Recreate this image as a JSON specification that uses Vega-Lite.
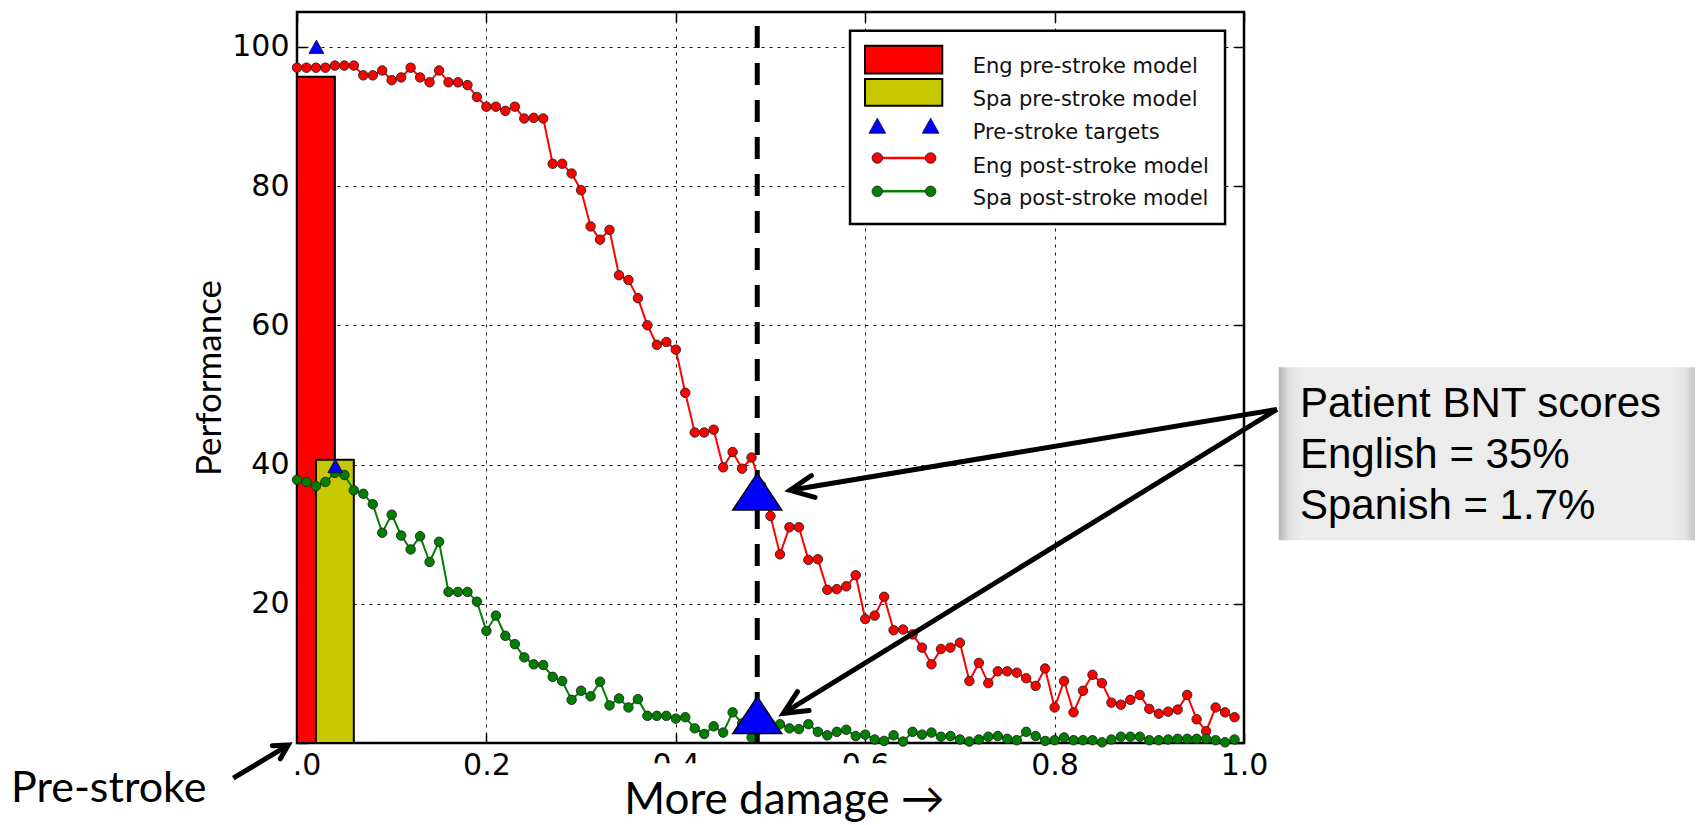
{
  "$schema": "https://vega.github.io/schema/vega-lite/v6.json",
  "width": 947,
  "height": 731,
  "autosize": {"type": "none"},
  "padding": {"left": 297, "top": 12, "right": 456, "bottom": 82},
  "background": "white",
  "config": {
    "view": {"stroke": "black", "strokeWidth": 2.5},
    "axis": {
      "labelFont": "DejaVu Sans",
      "labelFontSize": 30,
      "labelColor": "black",
      "tickColor": "black",
      "tickWidth": 1.5,
      "tickSize": -10,
      "domain": false,
      "gridColor": "black",
      "gridDash": [3, 5],
      "gridWidth": 1,
      "gridOpacity": 0.9,
      "labelFlush": false,
      "labelOverlap": false
    }
  },
  "datasets": {
    "post": [
      {"damage":0.00,"performance":97.0,"model":"Eng post-stroke model"},
      {"damage":0.01,"performance":97.0,"model":"Eng post-stroke model"},
      {"damage":0.02,"performance":97.0,"model":"Eng post-stroke model"},
      {"damage":0.03,"performance":97.0,"model":"Eng post-stroke model"},
      {"damage":0.04,"performance":97.3,"model":"Eng post-stroke model"},
      {"damage":0.05,"performance":97.3,"model":"Eng post-stroke model"},
      {"damage":0.06,"performance":97.3,"model":"Eng post-stroke model"},
      {"damage":0.07,"performance":95.9,"model":"Eng post-stroke model"},
      {"damage":0.08,"performance":95.9,"model":"Eng post-stroke model"},
      {"damage":0.09,"performance":96.6,"model":"Eng post-stroke model"},
      {"damage":0.10,"performance":95.2,"model":"Eng post-stroke model"},
      {"damage":0.11,"performance":95.6,"model":"Eng post-stroke model"},
      {"damage":0.12,"performance":97.0,"model":"Eng post-stroke model"},
      {"damage":0.13,"performance":95.6,"model":"Eng post-stroke model"},
      {"damage":0.14,"performance":94.9,"model":"Eng post-stroke model"},
      {"damage":0.15,"performance":96.6,"model":"Eng post-stroke model"},
      {"damage":0.16,"performance":94.9,"model":"Eng post-stroke model"},
      {"damage":0.17,"performance":94.9,"model":"Eng post-stroke model"},
      {"damage":0.18,"performance":94.5,"model":"Eng post-stroke model"},
      {"damage":0.19,"performance":92.8,"model":"Eng post-stroke model"},
      {"damage":0.20,"performance":91.4,"model":"Eng post-stroke model"},
      {"damage":0.21,"performance":91.4,"model":"Eng post-stroke model"},
      {"damage":0.22,"performance":90.8,"model":"Eng post-stroke model"},
      {"damage":0.23,"performance":91.4,"model":"Eng post-stroke model"},
      {"damage":0.24,"performance":89.7,"model":"Eng post-stroke model"},
      {"damage":0.25,"performance":89.8,"model":"Eng post-stroke model"},
      {"damage":0.26,"performance":89.7,"model":"Eng post-stroke model"},
      {"damage":0.27,"performance":83.2,"model":"Eng post-stroke model"},
      {"damage":0.28,"performance":83.2,"model":"Eng post-stroke model"},
      {"damage":0.29,"performance":81.8,"model":"Eng post-stroke model"},
      {"damage":0.30,"performance":79.4,"model":"Eng post-stroke model"},
      {"damage":0.31,"performance":74.2,"model":"Eng post-stroke model"},
      {"damage":0.32,"performance":72.3,"model":"Eng post-stroke model"},
      {"damage":0.33,"performance":73.7,"model":"Eng post-stroke model"},
      {"damage":0.34,"performance":67.2,"model":"Eng post-stroke model"},
      {"damage":0.35,"performance":66.5,"model":"Eng post-stroke model"},
      {"damage":0.36,"performance":63.9,"model":"Eng post-stroke model"},
      {"damage":0.37,"performance":60.0,"model":"Eng post-stroke model"},
      {"damage":0.38,"performance":57.2,"model":"Eng post-stroke model"},
      {"damage":0.39,"performance":57.6,"model":"Eng post-stroke model"},
      {"damage":0.40,"performance":56.5,"model":"Eng post-stroke model"},
      {"damage":0.41,"performance":50.3,"model":"Eng post-stroke model"},
      {"damage":0.42,"performance":44.6,"model":"Eng post-stroke model"},
      {"damage":0.43,"performance":44.6,"model":"Eng post-stroke model"},
      {"damage":0.44,"performance":45.0,"model":"Eng post-stroke model"},
      {"damage":0.45,"performance":39.6,"model":"Eng post-stroke model"},
      {"damage":0.46,"performance":41.8,"model":"Eng post-stroke model"},
      {"damage":0.47,"performance":39.4,"model":"Eng post-stroke model"},
      {"damage":0.48,"performance":41.0,"model":"Eng post-stroke model"},
      {"damage":0.49,"performance":37.0,"model":"Eng post-stroke model"},
      {"damage":0.50,"performance":32.6,"model":"Eng post-stroke model"},
      {"damage":0.51,"performance":27.1,"model":"Eng post-stroke model"},
      {"damage":0.52,"performance":31.0,"model":"Eng post-stroke model"},
      {"damage":0.53,"performance":31.0,"model":"Eng post-stroke model"},
      {"damage":0.54,"performance":26.3,"model":"Eng post-stroke model"},
      {"damage":0.55,"performance":26.4,"model":"Eng post-stroke model"},
      {"damage":0.56,"performance":22.0,"model":"Eng post-stroke model"},
      {"damage":0.57,"performance":22.1,"model":"Eng post-stroke model"},
      {"damage":0.58,"performance":22.5,"model":"Eng post-stroke model"},
      {"damage":0.59,"performance":24.1,"model":"Eng post-stroke model"},
      {"damage":0.60,"performance":17.8,"model":"Eng post-stroke model"},
      {"damage":0.61,"performance":18.3,"model":"Eng post-stroke model"},
      {"damage":0.62,"performance":21.0,"model":"Eng post-stroke model"},
      {"damage":0.63,"performance":16.2,"model":"Eng post-stroke model"},
      {"damage":0.64,"performance":16.3,"model":"Eng post-stroke model"},
      {"damage":0.65,"performance":15.6,"model":"Eng post-stroke model"},
      {"damage":0.66,"performance":13.7,"model":"Eng post-stroke model"},
      {"damage":0.67,"performance":11.3,"model":"Eng post-stroke model"},
      {"damage":0.68,"performance":13.5,"model":"Eng post-stroke model"},
      {"damage":0.69,"performance":13.7,"model":"Eng post-stroke model"},
      {"damage":0.70,"performance":14.4,"model":"Eng post-stroke model"},
      {"damage":0.71,"performance":8.9,"model":"Eng post-stroke model"},
      {"damage":0.72,"performance":11.5,"model":"Eng post-stroke model"},
      {"damage":0.73,"performance":8.6,"model":"Eng post-stroke model"},
      {"damage":0.74,"performance":10.3,"model":"Eng post-stroke model"},
      {"damage":0.75,"performance":10.3,"model":"Eng post-stroke model"},
      {"damage":0.76,"performance":10.1,"model":"Eng post-stroke model"},
      {"damage":0.77,"performance":9.3,"model":"Eng post-stroke model"},
      {"damage":0.78,"performance":8.2,"model":"Eng post-stroke model"},
      {"damage":0.79,"performance":10.7,"model":"Eng post-stroke model"},
      {"damage":0.80,"performance":5.1,"model":"Eng post-stroke model"},
      {"damage":0.81,"performance":8.9,"model":"Eng post-stroke model"},
      {"damage":0.82,"performance":4.4,"model":"Eng post-stroke model"},
      {"damage":0.83,"performance":7.5,"model":"Eng post-stroke model"},
      {"damage":0.84,"performance":9.8,"model":"Eng post-stroke model"},
      {"damage":0.85,"performance":8.6,"model":"Eng post-stroke model"},
      {"damage":0.86,"performance":5.8,"model":"Eng post-stroke model"},
      {"damage":0.87,"performance":5.5,"model":"Eng post-stroke model"},
      {"damage":0.88,"performance":6.2,"model":"Eng post-stroke model"},
      {"damage":0.89,"performance":6.9,"model":"Eng post-stroke model"},
      {"damage":0.90,"performance":4.9,"model":"Eng post-stroke model"},
      {"damage":0.91,"performance":4.2,"model":"Eng post-stroke model"},
      {"damage":0.92,"performance":4.5,"model":"Eng post-stroke model"},
      {"damage":0.93,"performance":4.8,"model":"Eng post-stroke model"},
      {"damage":0.94,"performance":6.9,"model":"Eng post-stroke model"},
      {"damage":0.95,"performance":3.4,"model":"Eng post-stroke model"},
      {"damage":0.96,"performance":1.7,"model":"Eng post-stroke model"},
      {"damage":0.97,"performance":5.1,"model":"Eng post-stroke model"},
      {"damage":0.98,"performance":4.4,"model":"Eng post-stroke model"},
      {"damage":0.99,"performance":3.7,"model":"Eng post-stroke model"},
      {"damage":0.00,"performance":37.8,"model":"Spa post-stroke model"},
      {"damage":0.01,"performance":37.5,"model":"Spa post-stroke model"},
      {"damage":0.02,"performance":36.9,"model":"Spa post-stroke model"},
      {"damage":0.03,"performance":37.5,"model":"Spa post-stroke model"},
      {"damage":0.04,"performance":38.8,"model":"Spa post-stroke model"},
      {"damage":0.05,"performance":38.5,"model":"Spa post-stroke model"},
      {"damage":0.06,"performance":36.3,"model":"Spa post-stroke model"},
      {"damage":0.07,"performance":35.8,"model":"Spa post-stroke model"},
      {"damage":0.08,"performance":34.3,"model":"Spa post-stroke model"},
      {"damage":0.09,"performance":30.2,"model":"Spa post-stroke model"},
      {"damage":0.10,"performance":32.8,"model":"Spa post-stroke model"},
      {"damage":0.11,"performance":29.8,"model":"Spa post-stroke model"},
      {"damage":0.12,"performance":27.8,"model":"Spa post-stroke model"},
      {"damage":0.13,"performance":29.7,"model":"Spa post-stroke model"},
      {"damage":0.14,"performance":26.0,"model":"Spa post-stroke model"},
      {"damage":0.15,"performance":28.9,"model":"Spa post-stroke model"},
      {"damage":0.16,"performance":21.7,"model":"Spa post-stroke model"},
      {"damage":0.17,"performance":21.7,"model":"Spa post-stroke model"},
      {"damage":0.18,"performance":21.7,"model":"Spa post-stroke model"},
      {"damage":0.19,"performance":20.3,"model":"Spa post-stroke model"},
      {"damage":0.20,"performance":16.1,"model":"Spa post-stroke model"},
      {"damage":0.21,"performance":18.3,"model":"Spa post-stroke model"},
      {"damage":0.22,"performance":15.4,"model":"Spa post-stroke model"},
      {"damage":0.23,"performance":14.2,"model":"Spa post-stroke model"},
      {"damage":0.24,"performance":12.3,"model":"Spa post-stroke model"},
      {"damage":0.25,"performance":11.3,"model":"Spa post-stroke model"},
      {"damage":0.26,"performance":11.2,"model":"Spa post-stroke model"},
      {"damage":0.27,"performance":9.5,"model":"Spa post-stroke model"},
      {"damage":0.28,"performance":8.9,"model":"Spa post-stroke model"},
      {"damage":0.29,"performance":6.2,"model":"Spa post-stroke model"},
      {"damage":0.30,"performance":7.5,"model":"Spa post-stroke model"},
      {"damage":0.31,"performance":6.7,"model":"Spa post-stroke model"},
      {"damage":0.32,"performance":8.8,"model":"Spa post-stroke model"},
      {"damage":0.33,"performance":5.4,"model":"Spa post-stroke model"},
      {"damage":0.34,"performance":6.4,"model":"Spa post-stroke model"},
      {"damage":0.35,"performance":5.1,"model":"Spa post-stroke model"},
      {"damage":0.36,"performance":6.3,"model":"Spa post-stroke model"},
      {"damage":0.37,"performance":3.9,"model":"Spa post-stroke model"},
      {"damage":0.38,"performance":3.9,"model":"Spa post-stroke model"},
      {"damage":0.39,"performance":3.9,"model":"Spa post-stroke model"},
      {"damage":0.40,"performance":3.5,"model":"Spa post-stroke model"},
      {"damage":0.41,"performance":3.7,"model":"Spa post-stroke model"},
      {"damage":0.42,"performance":2.1,"model":"Spa post-stroke model"},
      {"damage":0.43,"performance":1.3,"model":"Spa post-stroke model"},
      {"damage":0.44,"performance":2.4,"model":"Spa post-stroke model"},
      {"damage":0.45,"performance":1.5,"model":"Spa post-stroke model"},
      {"damage":0.46,"performance":4.4,"model":"Spa post-stroke model"},
      {"damage":0.47,"performance":2.8,"model":"Spa post-stroke model"},
      {"damage":0.48,"performance":0.8,"model":"Spa post-stroke model"},
      {"damage":0.49,"performance":2.0,"model":"Spa post-stroke model"},
      {"damage":0.50,"performance":2.5,"model":"Spa post-stroke model"},
      {"damage":0.51,"performance":2.7,"model":"Spa post-stroke model"},
      {"damage":0.52,"performance":2.1,"model":"Spa post-stroke model"},
      {"damage":0.53,"performance":2.0,"model":"Spa post-stroke model"},
      {"damage":0.54,"performance":2.7,"model":"Spa post-stroke model"},
      {"damage":0.55,"performance":1.6,"model":"Spa post-stroke model"},
      {"damage":0.56,"performance":1.1,"model":"Spa post-stroke model"},
      {"damage":0.57,"performance":1.6,"model":"Spa post-stroke model"},
      {"damage":0.58,"performance":1.9,"model":"Spa post-stroke model"},
      {"damage":0.59,"performance":1.0,"model":"Spa post-stroke model"},
      {"damage":0.60,"performance":1.2,"model":"Spa post-stroke model"},
      {"damage":0.61,"performance":0.5,"model":"Spa post-stroke model"},
      {"damage":0.62,"performance":0.3,"model":"Spa post-stroke model"},
      {"damage":0.63,"performance":1.1,"model":"Spa post-stroke model"},
      {"damage":0.64,"performance":0.2,"model":"Spa post-stroke model"},
      {"damage":0.65,"performance":1.6,"model":"Spa post-stroke model"},
      {"damage":0.66,"performance":1.2,"model":"Spa post-stroke model"},
      {"damage":0.67,"performance":1.5,"model":"Spa post-stroke model"},
      {"damage":0.68,"performance":0.9,"model":"Spa post-stroke model"},
      {"damage":0.69,"performance":1.0,"model":"Spa post-stroke model"},
      {"damage":0.70,"performance":0.5,"model":"Spa post-stroke model"},
      {"damage":0.71,"performance":0.2,"model":"Spa post-stroke model"},
      {"damage":0.72,"performance":0.5,"model":"Spa post-stroke model"},
      {"damage":0.73,"performance":0.9,"model":"Spa post-stroke model"},
      {"damage":0.74,"performance":1.0,"model":"Spa post-stroke model"},
      {"damage":0.75,"performance":0.6,"model":"Spa post-stroke model"},
      {"damage":0.76,"performance":0.4,"model":"Spa post-stroke model"},
      {"damage":0.77,"performance":1.6,"model":"Spa post-stroke model"},
      {"damage":0.78,"performance":1.0,"model":"Spa post-stroke model"},
      {"damage":0.79,"performance":0.3,"model":"Spa post-stroke model"},
      {"damage":0.80,"performance":0.4,"model":"Spa post-stroke model"},
      {"damage":0.81,"performance":0.8,"model":"Spa post-stroke model"},
      {"damage":0.82,"performance":0.4,"model":"Spa post-stroke model"},
      {"damage":0.83,"performance":0.4,"model":"Spa post-stroke model"},
      {"damage":0.84,"performance":0.4,"model":"Spa post-stroke model"},
      {"damage":0.85,"performance":0.1,"model":"Spa post-stroke model"},
      {"damage":0.86,"performance":0.5,"model":"Spa post-stroke model"},
      {"damage":0.87,"performance":0.9,"model":"Spa post-stroke model"},
      {"damage":0.88,"performance":0.9,"model":"Spa post-stroke model"},
      {"damage":0.89,"performance":0.9,"model":"Spa post-stroke model"},
      {"damage":0.90,"performance":0.4,"model":"Spa post-stroke model"},
      {"damage":0.91,"performance":0.4,"model":"Spa post-stroke model"},
      {"damage":0.92,"performance":0.5,"model":"Spa post-stroke model"},
      {"damage":0.93,"performance":0.6,"model":"Spa post-stroke model"},
      {"damage":0.94,"performance":0.6,"model":"Spa post-stroke model"},
      {"damage":0.95,"performance":0.6,"model":"Spa post-stroke model"},
      {"damage":0.96,"performance":0.6,"model":"Spa post-stroke model"},
      {"damage":0.97,"performance":0.4,"model":"Spa post-stroke model"},
      {"damage":0.98,"performance":0.1,"model":"Spa post-stroke model"},
      {"damage":0.99,"performance":0.5,"model":"Spa post-stroke model"}
    ],
    "pre": [
      {"model":"Eng pre-stroke model","damage":0.0,"damage2":0.04,"performance":95.7},
      {"model":"Spa pre-stroke model","damage":0.02,"damage2":0.06,"performance":40.7}
    ],
    "targets": [
      {"damage":0.0205,"performance":100.0},
      {"damage":0.0405,"performance":39.8}
    ],
    "patient": [
      {"language":"English","damage":0.486,"performance":36.1},
      {"language":"Spanish","damage":0.486,"performance":4.0}
    ],
    "cutoff": [
      {"damage":0.486,"performance":103.0,"performance2":0}
    ],
    "callout_box": [
      {"damage":1.0367,"damage2":1.4762,"performance":53.99,"performance2":29.12}
    ],
    "callout_text": [
      {"damage":1.0591,"performance":46.8,"text":"Patient BNT scores"},
      {"damage":1.0591,"performance":39.56,"text":"English = 35%"},
      {"damage":1.0591,"performance":32.24,"text":"Spanish = 1.7%"}
    ],
    "masks": [
      {"damage":-0.04,"damage2":-0.004,"performance":1.9,"performance2":-6},
      {"damage":0.33,"damage2":0.70,"performance":-2.9,"performance2":-13}
    ],
    "arrows": [
      {"id":"english","damage":0.5206,"performance":36.30,"damage2":1.0348,"performance2":47.92},
      {"id":"spanish","damage":0.5135,"performance":4.26,"damage2":1.0348,"performance2":47.92},
      {"id":"prestroke","damage":-0.0092,"performance":-0.29,"damage2":-0.0673,"performance2":-5.06}
    ],
    "notes": [
      {"note":"left","damage":-0.302,"performance":-8.42,"text":"Pre-stroke"},
      {"note":"center","damage":0.5148,"performance":-10.2,"text":"More damage →"}
    ],
    "legend_box": [
      {"damage":0.584,"damage2":0.98,"performance":102.3,"performance2":74.56}
    ],
    "legend_swatch": [
      {"model":"Eng pre-stroke model","damage":0.5998,"damage2":0.6814,"performance":100.14,"performance2":96.17},
      {"model":"Spa pre-stroke model","damage":0.5998,"damage2":0.6814,"performance":95.37,"performance2":91.54}
    ],
    "legend_triangles": [
      {"damage":0.6128,"performance":88.67},
      {"damage":0.6691,"performance":88.67}
    ],
    "legend_lines": [
      {"model":"Eng post-stroke model","damage":0.6128,"performance":84.03},
      {"model":"Eng post-stroke model","damage":0.6691,"performance":84.03},
      {"model":"Spa post-stroke model","damage":0.6128,"performance":79.24},
      {"model":"Spa post-stroke model","damage":0.6691,"performance":79.24}
    ],
    "legend_text": [
      {"damage":0.7135,"performance":96.17,"text":"Eng pre-stroke model"},
      {"damage":0.7135,"performance":91.54,"text":"Spa pre-stroke model"},
      {"damage":0.7135,"performance":86.76,"text":"Pre-stroke targets"},
      {"damage":0.7135,"performance":81.82,"text":"Eng post-stroke model"},
      {"damage":0.7135,"performance":77.33,"text":"Spa post-stroke model"}
    ]
  },
  "encoding": {
    "x": {"field": "damage", "type": "quantitative", "scale": {"domain": [0, 1], "nice": false, "zero": false}, "axis": null},
    "y": {"field": "performance", "type": "quantitative", "scale": {"domain": [0, 105], "nice": false, "zero": false}, "axis": null}
  },
  "layer": [
    {
      "data": {"name": "callout_box"},
      "mark": {"type": "rect", "fill": {"gradient": "linear", "x1": 0, "y1": 0, "x2": 1, "y2": 0, "stops": [
        {"offset": 0, "color": "#b4b4b4"},
        {"offset": 0.025, "color": "#e2e2e2"},
        {"offset": 0.06, "color": "#ececec"},
        {"offset": 0.94, "color": "#ececec"},
        {"offset": 0.975, "color": "#e4e4e4"},
        {"offset": 1, "color": "#c4c4c4"}]}},
      "encoding": {"x2": {"field": "damage2"}, "y2": {"field": "performance2"}}
    },
    {
      "data": {"name": "masks"},
      "mark": {"type": "rect", "fill": "white"},
      "encoding": {"x2": {"field": "damage2"}, "y2": {"field": "performance2"}}
    },
    {
      "data": {"name": "pre"},
      "mark": {"type": "rect", "stroke": "black", "strokeWidth": 2},
      "encoding": {
        "x": {"field": "damage", "type": "quantitative", "scale": {"domain": [0, 1], "nice": false, "zero": false},
              "axis": {"orient": "top", "values": [0, 0.2, 0.4, 0.6, 0.8, 1], "labels": false, "grid": false, "title": null}},
        "x2": {"field": "damage2"},
        "y": {"field": "performance", "type": "quantitative", "scale": {"domain": [0, 105], "nice": false, "zero": false},
              "axis": {"orient": "right", "values": [0, 20, 40, 60, 80, 100], "labels": false, "grid": false, "title": null}},
        "y2": {"datum": 0},
        "color": {"field": "model", "type": "nominal", "legend": null,
                  "scale": {"domain": ["Eng pre-stroke model", "Spa pre-stroke model", "Pre-stroke targets", "Eng post-stroke model", "Spa post-stroke model"],
                            "range": ["#ff0000", "#c8c800", "#0000ff", "#ff0000", "#008000"]}}
      }
    },
    {
      "data": {"name": "post"},
      "mark": {"type": "line", "strokeWidth": 2},
      "encoding": {
        "x": {"field": "damage", "type": "quantitative", "scale": {"domain": [0, 1], "nice": false, "zero": false},
              "axis": {"orient": "bottom", "values": [0, 0.2, 0.4, 0.6, 0.8, 1], "format": ".1f", "grid": true, "labelPadding": 17, "title": null}},
        "y": {"field": "performance", "type": "quantitative", "scale": {"domain": [0, 105], "nice": false, "zero": false},
              "axis": {"orient": "left", "values": [0, 20, 40, 60, 80, 100], "grid": true, "labelPadding": 18,
                       "title": "Performance", "titleFont": "Lato", "titleFontSize": 35, "titleFontWeight": "normal", "titleColor": "black", "titlePadding": 4}},
        "color": {"field": "model", "type": "nominal", "legend": null,
                  "scale": {"domain": ["Eng pre-stroke model", "Spa pre-stroke model", "Pre-stroke targets", "Eng post-stroke model", "Spa post-stroke model"],
                            "range": ["#ff0000", "#c8c800", "#0000ff", "#ff0000", "#008000"]}}
      }
    },
    {
      "data": {"name": "post"},
      "mark": {"type": "point", "shape": "circle", "filled": true, "size": 90, "stroke": "#222222", "strokeWidth": 0.9, "opacity": 1},
      "encoding": {
        "color": {"field": "model", "type": "nominal", "legend": null,
                  "scale": {"domain": ["Eng pre-stroke model", "Spa pre-stroke model", "Pre-stroke targets", "Eng post-stroke model", "Spa post-stroke model"],
                            "range": ["#ff0000", "#c8c800", "#0000ff", "#ff0000", "#008000"]}}
      }
    },
    {
      "data": {"name": "targets"},
      "mark": {"type": "point", "shape": "M0,-0.9L1,0.9L-1,0.9Z", "filled": true, "fill": "#0000ff", "stroke": "#111111", "strokeWidth": 0.8, "size": 225, "opacity": 1}
    },
    {
      "data": {"name": "cutoff"},
      "mark": {"type": "rule", "strokeWidth": 5, "strokeDash": [22, 15], "color": "black"},
      "encoding": {"y2": {"field": "performance2"}}
    },
    {
      "data": {"name": "patient"},
      "mark": {"type": "point", "shape": "M0,-0.75L1,0.75L-1,0.75Z", "filled": true, "fill": "#0000ff", "stroke": "black", "strokeWidth": 1.5, "size": 2401, "opacity": 1}
    },
    {
      "data": {"name": "legend_box"},
      "mark": {"type": "rect", "fill": "white", "stroke": "black", "strokeWidth": 2.5},
      "encoding": {"x2": {"field": "damage2"}, "y2": {"field": "performance2"}}
    },
    {
      "data": {"name": "legend_swatch"},
      "mark": {"type": "rect", "stroke": "black", "strokeWidth": 2},
      "encoding": {
        "x2": {"field": "damage2"}, "y2": {"field": "performance2"},
        "color": {"field": "model", "type": "nominal", "legend": null,
                  "scale": {"domain": ["Eng pre-stroke model", "Spa pre-stroke model", "Pre-stroke targets", "Eng post-stroke model", "Spa post-stroke model"],
                            "range": ["#ff0000", "#c8c800", "#0000ff", "#ff0000", "#008000"]}}
      }
    },
    {
      "data": {"name": "legend_triangles"},
      "mark": {"type": "point", "shape": "M0,-0.9L1,0.9L-1,0.9Z", "filled": true, "fill": "#0000ff", "stroke": "#111111", "strokeWidth": 0.8, "size": 279, "opacity": 1}
    },
    {
      "data": {"name": "legend_lines"},
      "mark": {"type": "line", "strokeWidth": 2.5},
      "encoding": {
        "color": {"field": "model", "type": "nominal", "legend": null,
                  "scale": {"domain": ["Eng pre-stroke model", "Spa pre-stroke model", "Pre-stroke targets", "Eng post-stroke model", "Spa post-stroke model"],
                            "range": ["#ff0000", "#c8c800", "#0000ff", "#ff0000", "#008000"]}}
      }
    },
    {
      "data": {"name": "legend_lines"},
      "mark": {"type": "point", "shape": "circle", "filled": true, "size": 110, "stroke": "#222222", "strokeWidth": 0.9, "opacity": 1},
      "encoding": {
        "color": {"field": "model", "type": "nominal", "legend": null,
                  "scale": {"domain": ["Eng pre-stroke model", "Spa pre-stroke model", "Pre-stroke targets", "Eng post-stroke model", "Spa post-stroke model"],
                            "range": ["#ff0000", "#c8c800", "#0000ff", "#ff0000", "#008000"]}}
      }
    },
    {
      "data": {"name": "legend_text"},
      "mark": {"type": "text", "align": "left", "baseline": "alphabetic", "font": "DejaVu Sans", "fontSize": 21, "color": "#111111"},
      "encoding": {"text": {"field": "text"}}
    },
    {
      "data": {"name": "callout_text"},
      "mark": {"type": "text", "align": "left", "baseline": "alphabetic", "font": "Liberation Sans", "fontSize": 42, "color": "black"},
      "encoding": {"text": {"field": "text"}}
    },
    {
      "data": {"name": "arrows"},
      "mark": {"type": "rule", "strokeWidth": 5, "color": "black"},
      "encoding": {"x2": {"field": "damage2"}, "y2": {"field": "performance2"}}
    },
    {
      "data": {"name": "arrows"},
      "transform": [{"filter": "datum.id === 'english'"}],
      "mark": {"type": "point", "shape": "M-1,-0.47L0,0L-1,0.47", "filled": false, "color": "black", "strokeWidth": 5, "strokeCap": "round", "size": 2209, "angle": 170.6, "opacity": 1}
    },
    {
      "data": {"name": "arrows"},
      "transform": [{"filter": "datum.id === 'spanish'"}],
      "mark": {"type": "point", "shape": "M-1,-0.47L0,0L-1,0.47", "filled": false, "color": "black", "strokeWidth": 5, "strokeCap": "round", "size": 2209, "angle": 148.4, "opacity": 1}
    },
    {
      "data": {"name": "arrows"},
      "transform": [{"filter": "datum.id === 'prestroke'"}],
      "mark": {"type": "point", "shape": "M-1,-0.55L0,0L-1,0.55", "filled": false, "color": "black", "strokeWidth": 5, "strokeCap": "round", "size": 784, "angle": 328.8, "opacity": 1}
    },
    {
      "data": {"name": "notes"},
      "transform": [{"filter": "datum.note === 'left'"}],
      "mark": {"type": "text", "align": "left", "baseline": "alphabetic", "font": "Lato, DejaVu Sans", "fontSize": 43, "color": "black"},
      "encoding": {"text": {"field": "text"}}
    },
    {
      "data": {"name": "notes"},
      "transform": [{"filter": "datum.note === 'center'"}],
      "mark": {"type": "text", "align": "center", "baseline": "alphabetic", "font": "Lato, DejaVu Sans", "fontSize": 44, "color": "black"},
      "encoding": {"text": {"field": "text"}}
    }
  ],
  "resolve": {"axis": {"x": "independent", "y": "independent"}}
}
